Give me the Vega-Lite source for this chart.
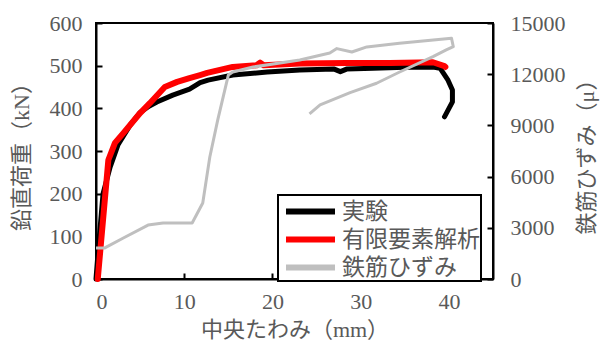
{
  "$schema": "https://vega.github.io/schema/vega-lite/v6.json",
  "width": 397,
  "height": 256,
  "autosize": {"type": "none"},
  "padding": {"left": 96, "top": 23, "right": 107, "bottom": 61},
  "background": "white",
  "config": {
    "font": "Liberation Serif, Times New Roman, serif",
    "view": {"stroke": "black", "strokeWidth": 2},
    "legend": {"strokeWidth": 2},
    "axis": {
      "grid": false,
      "domainColor": "black",
      "domainWidth": 2,
      "tickColor": "black",
      "tickWidth": 2,
      "tickSize": -6,
      "labelFont": "Liberation Serif, Times New Roman, serif",
      "labelFontSize": 22,
      "labelColor": "#595959",
      "titleFontSize": 22,
      "titleFontWeight": "normal",
      "titleColor": "#595959",
      "titleFont": "Liberation Serif, Noto Sans CJK JP, serif"
    }
  },
  "data": {
    "values": [
      {"s": "実験", "i": 0, "x": 0, "v": 0},
      {"s": "実験", "i": 1, "x": 0.3, "v": 80},
      {"s": "実験", "i": 2, "x": 0.8, "v": 200},
      {"s": "実験", "i": 3, "x": 1.6, "v": 262},
      {"s": "実験", "i": 4, "x": 2.5, "v": 315},
      {"s": "実験", "i": 5, "x": 3.85, "v": 360},
      {"s": "実験", "i": 6, "x": 5.0, "v": 390},
      {"s": "実験", "i": 7, "x": 6.0, "v": 405},
      {"s": "実験", "i": 8, "x": 6.9, "v": 415},
      {"s": "実験", "i": 9, "x": 8.7, "v": 431},
      {"s": "実験", "i": 10, "x": 10.6, "v": 445},
      {"s": "実験", "i": 11, "x": 11.8, "v": 460},
      {"s": "実験", "i": 12, "x": 12.7, "v": 466},
      {"s": "実験", "i": 13, "x": 15.5, "v": 478},
      {"s": "実験", "i": 14, "x": 19.4, "v": 485},
      {"s": "実験", "i": 15, "x": 23.1, "v": 490},
      {"s": "実験", "i": 16, "x": 27.0, "v": 492},
      {"s": "実験", "i": 17, "x": 27.7, "v": 486},
      {"s": "実験", "i": 18, "x": 28.4, "v": 492},
      {"s": "実験", "i": 19, "x": 31.4, "v": 494},
      {"s": "実験", "i": 20, "x": 35.0, "v": 496},
      {"s": "実験", "i": 21, "x": 38.2, "v": 497},
      {"s": "実験", "i": 22, "x": 39.0, "v": 494},
      {"s": "実験", "i": 23, "x": 39.9, "v": 466},
      {"s": "実験", "i": 24, "x": 40.4, "v": 443},
      {"s": "実験", "i": 25, "x": 40.4, "v": 415},
      {"s": "実験", "i": 26, "x": 39.5, "v": 380},
      {"s": "有限要素解析", "i": 0, "x": 0.2, "v": 0},
      {"s": "有限要素解析", "i": 1, "x": 1.2, "v": 232},
      {"s": "有限要素解析", "i": 2, "x": 1.4, "v": 279},
      {"s": "有限要素解析", "i": 3, "x": 2.15, "v": 319},
      {"s": "有限要素解析", "i": 4, "x": 3.1, "v": 342},
      {"s": "有限要素解析", "i": 5, "x": 5.0, "v": 389},
      {"s": "有限要素解析", "i": 6, "x": 6.1, "v": 412},
      {"s": "有限要素解析", "i": 7, "x": 7.8, "v": 450},
      {"s": "有限要素解析", "i": 8, "x": 9.2, "v": 462},
      {"s": "有限要素解析", "i": 9, "x": 10.6, "v": 471},
      {"s": "有限要素解析", "i": 10, "x": 11.8, "v": 478},
      {"s": "有限要素解析", "i": 11, "x": 12.6, "v": 483},
      {"s": "有限要素解析", "i": 12, "x": 15.5, "v": 497},
      {"s": "有限要素解析", "i": 13, "x": 18.2, "v": 501},
      {"s": "有限要素解析", "i": 14, "x": 18.6, "v": 507},
      {"s": "有限要素解析", "i": 15, "x": 19.0, "v": 501},
      {"s": "有限要素解析", "i": 16, "x": 23.1, "v": 505},
      {"s": "有限要素解析", "i": 17, "x": 28.4, "v": 506},
      {"s": "有限要素解析", "i": 18, "x": 33.3, "v": 506},
      {"s": "有限要素解析", "i": 19, "x": 38.2, "v": 508},
      {"s": "有限要素解析", "i": 20, "x": 39.5, "v": 499},
      {"s": "有限要素解析", "i": 21, "x": 39.6, "v": 497},
      {"s": "鉄筋ひずみ", "i": 0, "x": 0, "v": 1820},
      {"s": "鉄筋ひずみ", "i": 1, "x": 1.0, "v": 1820},
      {"s": "鉄筋ひずみ", "i": 2, "x": 3.1, "v": 2400},
      {"s": "鉄筋ひずみ", "i": 3, "x": 5.9, "v": 3160},
      {"s": "鉄筋ひずみ", "i": 4, "x": 7.6, "v": 3280},
      {"s": "鉄筋ひずみ", "i": 5, "x": 10.9, "v": 3280},
      {"s": "鉄筋ひずみ", "i": 6, "x": 12.1, "v": 4450},
      {"s": "鉄筋ひずみ", "i": 7, "x": 12.5, "v": 5800},
      {"s": "鉄筋ひずみ", "i": 8, "x": 12.9, "v": 7150},
      {"s": "鉄筋ひずみ", "i": 9, "x": 13.8, "v": 9320},
      {"s": "鉄筋ひずみ", "i": 10, "x": 15.0, "v": 11950},
      {"s": "鉄筋ひずみ", "i": 11, "x": 15.5, "v": 12130},
      {"s": "鉄筋ひずみ", "i": 12, "x": 17.8, "v": 12420},
      {"s": "鉄筋ひずみ", "i": 13, "x": 23.1, "v": 12830},
      {"s": "鉄筋ひずみ", "i": 14, "x": 26.5, "v": 13240},
      {"s": "鉄筋ひずみ", "i": 15, "x": 27.3, "v": 13500},
      {"s": "鉄筋ひずみ", "i": 16, "x": 29.0, "v": 13300},
      {"s": "鉄筋ひずみ", "i": 17, "x": 30.7, "v": 13600},
      {"s": "鉄筋ひずみ", "i": 18, "x": 34.4, "v": 13810},
      {"s": "鉄筋ひずみ", "i": 19, "x": 40.3, "v": 14100},
      {"s": "鉄筋ひずみ", "i": 20, "x": 40.5, "v": 13610},
      {"s": "鉄筋ひずみ", "i": 21, "x": 39.7, "v": 13420},
      {"s": "鉄筋ひずみ", "i": 22, "x": 38.2, "v": 13030},
      {"s": "鉄筋ひずみ", "i": 23, "x": 34.3, "v": 12100},
      {"s": "鉄筋ひずみ", "i": 24, "x": 31.8, "v": 11470},
      {"s": "鉄筋ひずみ", "i": 25, "x": 28.8, "v": 10920},
      {"s": "鉄筋ひずみ", "i": 26, "x": 25.4, "v": 10200},
      {"s": "鉄筋ひずみ", "i": 27, "x": 24.2, "v": 9670}
    ]
  },
  "encoding": {
    "x": {
      "field": "x",
      "type": "quantitative",
      "scale": {"domain": [0, 45], "nice": false},
      "axis": {"values": [0, 10, 20, 30, 40], "title": "中央たわみ（mm）", "labelPadding": 18, "titlePadding": 7}
    },
    "order": {"field": "i", "type": "quantitative"},
    "color": {
      "field": "s",
      "type": "nominal",
      "scale": {"domain": ["実験", "有限要素解析", "鉄筋ひずみ"], "range": ["#000000", "#ff0000", "#bfbfbf"]},
      "legend": {
        "title": null,
        "orient": "none",
        "legendX": 182,
        "legendY": 172,
        "direction": "vertical",
        "strokeColor": "black",
        "padding": 1,
        "fillColor": "white",
        "symbolType": "M-0.68,0H3.24",
        "symbolSize": 625,
        "symbolStrokeWidth": 6,
        "labelFontSize": 23,
        "labelColor": "#595959",
        "labelFont": "Liberation Serif, Noto Sans CJK JP, serif",
        "labelOffset": 32,
        "rowPadding": 0
      }
    }
  },
  "layer": [
    {
      "layer": [
        {
          "transform": [{"filter": "datum.s === '実験'"}],
          "mark": {"type": "line", "strokeWidth": 5, "strokeCap": "round", "strokeJoin": "round"},
          "encoding": {
            "y": {
              "field": "v",
              "type": "quantitative",
              "scale": {"domain": [0, 600], "nice": false},
              "axis": {"values": [0, 100, 200, 300, 400, 500, 600], "title": "鉛直荷重（kN）", "labelPadding": 20, "titlePadding": 16}
            }
          }
        },
        {
          "transform": [{"filter": "datum.s === '有限要素解析'"}],
          "mark": {"type": "line", "strokeWidth": 6, "strokeCap": "round", "strokeJoin": "round"},
          "encoding": {
            "y": {"field": "v", "type": "quantitative"}
          }
        }
      ]
    },
    {
      "transform": [{"filter": "datum.s === '鉄筋ひずみ'"}],
      "mark": {"type": "line", "strokeWidth": 3, "strokeJoin": "round"},
      "encoding": {
        "y": {
          "field": "v",
          "type": "quantitative",
          "scale": {"domain": [0, 15000], "nice": false},
          "axis": {"orient": "right", "values": [0, 3000, 6000, 9000, 12000, 15000], "format": "d", "title": "鉄筋ひずみ（μ）", "titleAngle": 270, "labelPadding": 23, "titlePadding": 33}
        }
      }
    }
  ],
  "resolve": {"scale": {"y": "independent"}}
}
